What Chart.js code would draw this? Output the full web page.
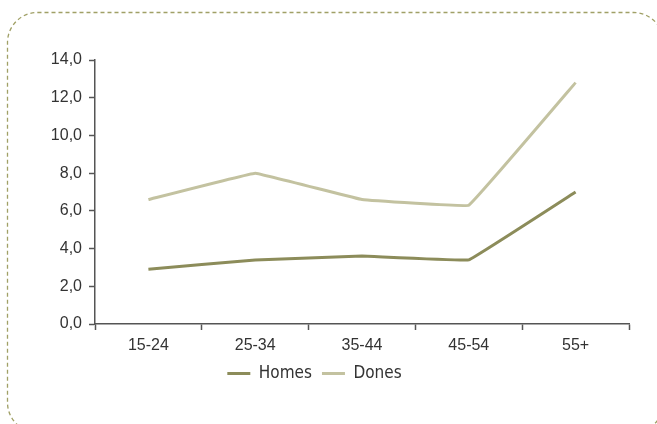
<!DOCTYPE html>
<html lang="ca">
<head>
  <meta charset="UTF-8">
  <title>Homes i dones per edat</title>
  <script src="https://cdn.jsdelivr.net/npm/chart.js"></script>
  <style>
    html, body { margin: 0; padding: 0; background: #fff; }
    #wrap { position: relative; width: 657px; height: 424px; }
  </style>
</head>
<body>
  <div id="wrap"><canvas id="chart" width="657" height="424"></canvas></div>

  <script>
    const categories = ['15-24', '25-34', '35-44', '45-54', '55+'];
    const homes = [2.9, 3.4, 3.6, 3.4, 7.0];
    const dones = [6.6, 8.0, 6.6, 6.3, 12.8];

    // dashed rounded frame around the whole chart
    const framePlugin = {
      id: 'frame',
      beforeDraw(chart) {
        const c = chart.ctx;
        const x = 7.5, y = 12.5, w = 656, h = 420, r = 30;
        c.save();
        c.strokeStyle = '#a0a066';
        c.lineWidth = 1.3;
        c.setLineDash([4, 3]);
        c.beginPath();
        c.moveTo(x + r, y);
        c.arcTo(x + w, y, x + w, y + h, r);
        c.arcTo(x + w, y + h, x, y + h, r);
        c.arcTo(x, y + h, x, y, r);
        c.arcTo(x, y, x + w, y, r);
        c.closePath();
        c.stroke();
        c.restore();
      }
    };

    const tickFont = { family: "'Liberation Sans', Arial, sans-serif", size: 16 };

    new Chart(document.getElementById('chart'), {
      type: 'line',
      data: {
        labels: categories,
        datasets: [
          {
            label: 'Homes',
            data: homes,
            borderColor: '#8c8c5a',
            backgroundColor: '#8c8c5a',
            borderWidth: 3,
            pointRadius: 0,
            tension: 0.04
          },
          {
            label: 'Dones',
            data: dones,
            borderColor: '#c3c2a0',
            backgroundColor: '#c3c2a0',
            borderWidth: 3,
            pointRadius: 0,
            tension: 0.04
          }
        ]
      },
      plugins: [framePlugin],
      options: {
        responsive: false,
        animation: false,
        layout: { padding: { top: 60, right: 28, bottom: 32, left: 0 } },
        plugins: {
          tooltip: { enabled: false },
          legend: {
            position: 'bottom',
            labels: {
              usePointStyle: true,
              pointStyle: 'line',
              pointStyleWidth: 23,
              boxHeight: 3,
              padding: 10,
              color: '#333',
              font: { family: "'DejaVu Sans Condensed', 'Liberation Sans Narrow', Roboto, sans-serif", size: 17 }
            }
          }
        },
        scales: {
          x: {
            offset: true,
            afterFit(s) { s.height = 31; },
            grid: { offset: true, drawOnChartArea: false, tickLength: 6, tickColor: '#555', tickWidth: 1.5 },
            border: { color: '#555', width: 1.5 },
            ticks: { color: '#333', padding: 6, font: tickFont }
          },
          y: {
            min: 0,
            max: 14,
            afterFit(s) { s.width = 95; },
            grid: { drawOnChartArea: false, tickLength: 6, tickColor: '#555', tickWidth: 1.5 },
            border: { color: '#555', width: 1.5 },
            ticks: {
              stepSize: 2,
              color: '#333',
              padding: 7,
              font: tickFont,
              callback: v => v.toFixed(1).replace('.', ',')
            }
          }
        }
      }
    });
  </script>
</body>
</html>
